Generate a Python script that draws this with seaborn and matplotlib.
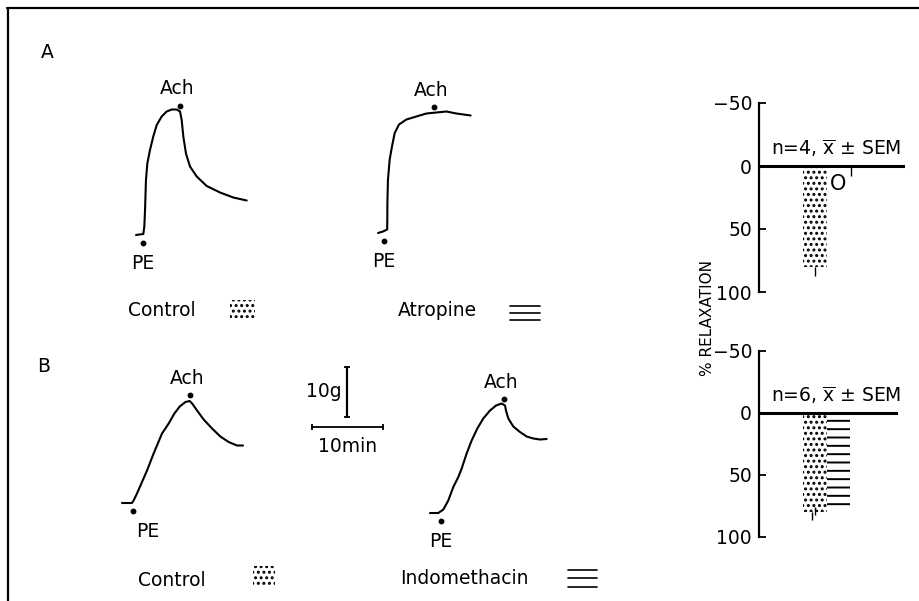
import numpy as np
import matplotlib.pyplot as plt
from matplotlib.lines import Line2D
from matplotlib.patches import Rectangle
import seaborn as sns

# tension traces: time (min) from start of recording, tension (g) above baseline
ctrl_a_t = [0, 1.02, 1.16, 1.26, 1.39, 1.58, 1.95, 2.41, 2.89, 3.58, 4.28, 4.98,
            5.68, 6.14, 6.37, 6.60, 6.97, 7.53, 8.47, 9.86, 11.72, 13.57, 15.44]
ctrl_a_g = [0, 0.2, 1.7, 5.0, 11.0, 14.3, 17.0, 19.7, 22.0, 23.7, 24.7, 25.1,
            25.1, 24.7, 23.0, 19.7, 16.3, 13.7, 11.7, 9.8, 8.5, 7.5, 6.9]

atro_a_t = [0, 0.70, 1.28, 1.30, 1.31, 1.39, 1.63, 1.95, 2.33, 2.93, 3.96, 5.35,
            6.75, 8.14, 9.53, 10.93, 12.92]
atro_a_g = [0, 0.3, 0.7, 2.7, 6.0, 10.7, 14.7, 17.3, 20.0, 21.7, 22.7, 23.3,
            23.9, 24.1, 24.3, 23.9, 23.5]

ctrl_b_t = [0, 1.39, 1.62, 2.09, 2.79, 3.49, 4.41, 5.58, 6.51, 7.31, 8.05, 8.84,
            9.44, 9.78, 10.47, 11.39, 12.56, 13.72, 14.87, 16.04, 16.88]
ctrl_b_g = [0, 0, 0.5, 1.9, 4.2, 6.5, 9.9, 13.9, 15.9, 17.9, 19.3, 20.2,
            20.4, 19.9, 18.5, 16.7, 14.9, 13.3, 12.2, 11.5, 11.5]

indo_b_t = [0, 1.16, 1.86, 2.55, 3.25, 3.95, 4.42, 5.11, 5.81, 6.60, 7.43, 8.37,
            9.21, 10.00, 10.46, 10.60, 10.92, 11.62, 12.55, 13.48, 14.41, 15.34, 16.27]
indo_b_g = [0, 0, 0.7, 2.5, 5.2, 7.2, 8.9, 11.9, 14.5, 16.9, 18.9, 20.5,
            21.5, 21.9, 21.5, 20.5, 18.9, 17.3, 16.2, 15.3, 14.9, 14.7, 14.8]

pe_times = [0.98, 0.84, 1.48, 1.49]     # min, PE added
ach_times = [6.14, 7.81, 9.44, 10.32]   # min, Ach added

# % relaxation to Ach, mean and SEM
groups_a = ["Control", "Atropine"]
relax_a = [80, 0]
sem_a = [7, 8]
groups_b = ["Control", "Indomethacin"]
relax_b = [80, 76]
sem_b = [6, 6]
n_a, n_b = 4, 6
y_ticks = [-50, 0, 50, 100]
y_ticklabels = ["\u221250", "0", "50", "100"]

W, H = 919, 601
PX_MIN, PX_G = 7.17, 5.0   # scale: 10 min bar and 10 g bar
FS = 13.5
STIPPLE = "..."

sns.set_theme(style="white")
plt.rcParams["font.family"] = ["DejaVu Sans"]
plt.rcParams["text.color"] = "black"
plt.rcParams["hatch.linewidth"] = 1.4
plt.rcParams["mathtext.default"] = "regular"

fig = plt.figure(figsize=(W / 100, H / 100), dpi=100)


def px_axes(left, top, width, height):
    return fig.add_axes([left / W, 1 - (top + height) / H, width / W, height / H])


def trace_axes(x0, base, t_rng=(-1, 18), g_rng=(-6, 30)):
    w = (t_rng[1] - t_rng[0]) * PX_MIN
    h = (g_rng[1] - g_rng[0]) * PX_G
    ax = px_axes(x0 + t_rng[0] * PX_MIN, base - g_rng[1] * PX_G, w, h)
    ax.set_xlim(*t_rng)
    ax.set_ylim(*g_rng)
    ax.set_axis_off()
    return ax


# traces
traces = [(ctrl_a_t, ctrl_a_g, 136, 235, 0),
          (atro_a_t, atro_a_g, 378, 233, 0),
          (ctrl_b_t, ctrl_b_g, 122, 503, 11),
          (indo_b_t, indo_b_g, 430, 513, 0)]
for (t, g, x0, base, pe_dx), pe, ach in zip(traces, pe_times, ach_times):
    ax = trace_axes(x0, base)
    sns.lineplot(x=t, y=g, sort=False, estimator=None, color="black", lw=1.5, ax=ax)
    ya = np.interp(ach, t, g) + 1.2
    ax.plot([ach], [ya], "o", color="black", ms=3.2)
    ax.annotate("Ach", (ach, ya), xytext=(-2, 12), textcoords="offset points",
                ha="center", va="center", fontsize=FS)
    ax.plot([pe], [-1.6], "o", color="black", ms=3.2)
    ax.annotate("PE", (pe, -1.6), xytext=(pe_dx, -15), textcoords="offset points",
                ha="center", va="center", fontsize=FS)

# scale bars
sax = trace_axes(311.7, 426.7, t_rng=(-1, 11), g_rng=(-2, 14))
sax.plot([0, 10], [0, 0], color="black", lw=1.3, marker="|", ms=5, mew=1.3)
sax.plot([4.9, 4.9], [2, 12], color="black", lw=1.6, marker="_", ms=5, mew=1.3)
sax.annotate("10g", (4.9, 7), xytext=(-4, 0), textcoords="offset points",
             ha="right", va="center", fontsize=FS)
sax.annotate("10min", (5, 0), xytext=(0, -14.5), textcoords="offset points",
             ha="center", va="center", fontsize=FS)

# bar panels
BAR_PX = 23.5


def bar_panel(top, bottom, right, groups, vals, sems, n, err_x):
    ax = px_axes(759, top, right - 759, bottom - top)
    sns.barplot(x=groups, y=vals, width=1, color="white", edgecolor="black",
                linewidth=0, saturation=1, errorbar=None, ax=ax)
    for p, h in zip(ax.patches, [STIPPLE, "--"]):
        p.set_hatch(h)
    x_left = -0.5 - (803 - 759) / BAR_PX
    ax.set_xlim(x_left, x_left + (right - 759) / BAR_PX)
    ax.set_ylim(100, -50)
    ax.axhline(0, color="black", lw=2.2)
    ax.vlines(err_x, vals, np.add(vals, sems), color="black", lw=1.0)
    ax.annotate(rf"n={n}, $\overline{{x}}$ ± SEM", (1, 0), xytext=(-1.5, 13),
                textcoords="offset points", ha="center", va="center", fontsize=FS)
    for s in ["top", "right", "bottom"]:
        ax.spines[s].set_visible(False)
    ax.spines["left"].set_linewidth(1.6)
    ax.spines["left"].set_color("black")
    ax.set_xticks([])
    ax.set_yticks(y_ticks)
    ax.set_yticklabels(y_ticklabels)
    ax.tick_params(axis="y", direction="in", length=5, width=1.3, pad=5,
                   labelsize=FS, colors="black", left=True)
    ax.set_xlabel("")
    ax.set_ylabel("")
    ax.patch.set_alpha(0)
    return ax


bax_a = bar_panel(103, 292, 905, groups_a, relax_a, sem_a, n_a, [0, 1.53])
bax_a.annotate("O", (1, 0), xytext=(0, -13), textcoords="offset points",
               ha="center", va="center", fontsize=15)
bar_panel(351, 537, 898, groups_b, relax_b, sem_b, n_b, [-0.1, 0])

fig.text(707 / W, 1 - 318 / H, "% RELAXATION", rotation=90, ha="center",
         va="center", fontsize=11)

# panel letters and condition labels
fig.text(47 / W, 1 - 53 / H, "A", ha="center", va="center", fontsize=FS)
fig.text(44 / W, 1 - 366 / H, "B", ha="center", va="center", fontsize=FS)
for label, x, y in [("Control", 128, 310), ("Atropine", 398, 310),
                    ("Control", 138, 580), ("Indomethacin", 400, 579)]:
    fig.text(x / W, 1 - y / H, label, ha="left", va="center", fontsize=FS)

# swatches
for x, y, w, h in [(230, 300, 25, 18), (253, 566, 22, 20)]:
    fig.patches.append(Rectangle((x / W, 1 - (y + h) / H), w / W, h / H,
                                 transform=fig.transFigure, facecolor="white",
                                 edgecolor="black", lw=0, hatch=STIPPLE))
for x, w, ys in [(510, 30, [306, 313, 320]), (568, 29, [570, 578, 587])]:
    for y in ys:
        fig.add_artist(Line2D([x / W, (x + w) / W], [1 - y / H, 1 - y / H],
                              transform=fig.transFigure, color="black", lw=1.2))

# frame
fig.add_artist(Line2D([7 / W, 1], [1 - 8 / H, 1 - 8 / H], transform=fig.transFigure,
                      color="black", lw=1.6))
fig.add_artist(Line2D([8 / W, 8 / W], [0, 1 - 8 / H], transform=fig.transFigure,
                      color="black", lw=1.6))

fig.savefig("out.png", dpi=100)
